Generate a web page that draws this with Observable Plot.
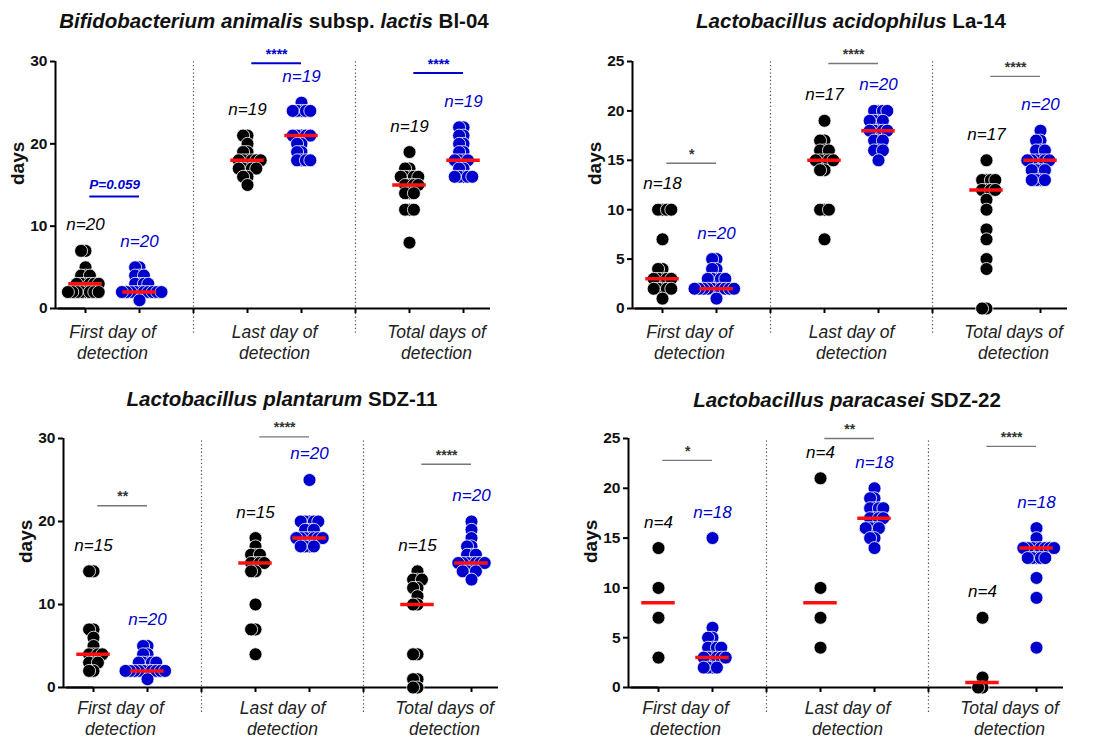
<!DOCTYPE html>
<html><head><meta charset="utf-8">
<script src="https://cdn.jsdelivr.net/npm/d3@7"></script>
<script src="https://cdn.jsdelivr.net/npm/@observablehq/plot@0.6"></script>
<style>
body{margin:0;background:#fff;font-family:"Liberation Sans",Arial,sans-serif;}
#root{position:relative;width:1094px;height:739px;overflow:hidden;background:#fff;}
.title{position:absolute;text-align:center;font-weight:bold;font-size:20.5px;line-height:24px;white-space:nowrap;color:#111;}
.panel{position:absolute;}
</style></head><body><div id="root"></div>
<script>
// ---------- shared categories ----------
const groupLabels = ["First day of\ndetection", "Last day of\ndetection", "Total days of\ndetection"];
const seriesNames = ["control", "probiotic"];
const seriesColors = ["#000000", "#0000cc"];

// ---------- Bifidobacterium animalis subsp. lactis Bl-04 ----------
const bl04_first_control = [7,7,5,4,4,4,3,3,3,3,3,3,2,2,2,2,2,2,2,2];
const bl04_first_probiotic = [5,5,4,4,4,3,3,3,3,2,2,2,2,2,2,2,2,2,2,1];
const bl04_last_control = [21,21,20,19,19,18,18,18,18,18,18,17,17,17,17,17,16,16,15];
const bl04_last_probiotic = [25,24,24,24,24,24,21,21,21,21,21,20,20,19,19,18,18,18,18];
const bl04_total_control = [19,17,17,16,16,16,16,16,15,15,15,15,14,14,14,12,12,12,8];
const bl04_total_probiotic = [22,22,21,21,20,20,19,19,18,18,18,18,17,17,16,16,16,16,16];
const bl04_sig_labels = ["P=0.059", "****", "****"];
const bl04_sig_y = [13.6, 29.8, 28.6];

// ---------- Lactobacillus acidophilus La-14 ----------
const la14_first_control = [10,10,10,10,7,4,4,3,3,3,3,3,2,2,2,2,2,1];
const la14_first_probiotic = [5,5,4,4,3,3,3,3,3,2,2,2,2,2,2,2,2,2,2,1];
const la14_last_control = [19,17,17,16,16,16,15,15,15,15,15,14,14,10,10,10,7];
const la14_last_probiotic = [20,20,20,20,19,19,19,19,18,18,18,18,18,17,17,17,16,16,16,15];
const la14_total_control = [15,13,13,13,13,12,12,12,12,11,10,8,7,5,4,0,0];
const la14_total_probiotic = [18,17,17,16,16,16,15,15,15,15,15,15,14,14,14,14,13,13,13,13];
const la14_sig_labels = ["*", "****", "****"];
const la14_sig_y = [14.7, 24.8, 23.5];

// ---------- Lactobacillus plantarum SDZ-11 ----------
const sdz11_first_control = [14,14,7,7,6,5,4,4,4,4,3,3,3,2,2];
const sdz11_first_probiotic = [5,5,4,4,3,3,3,3,3,2,2,2,2,2,2,2,2,2,2,1];
const sdz11_last_control = [18,17,16,16,16,15,15,15,15,14,14,10,7,7,4];
const sdz11_last_probiotic = [25,20,20,20,20,20,19,19,19,18,18,18,18,18,18,18,17,17,17,17];
const sdz11_total_control = [14,13,13,13,12,12,11,10,10,4,4,1,1,0,0];
const sdz11_total_probiotic = [20,19,18,17,17,16,16,16,15,15,15,15,15,15,15,14,14,14,14,13];
const sdz11_sig_labels = ["**", "****", "****"];
const sdz11_sig_y = [21.9, 30.2, 26.9];

// ---------- Lactobacillus paracasei SDZ-22 ----------
const sdz22_first_control = [14,10,7,3];
const sdz22_first_probiotic = [15,6,5,5,4,4,4,4,3,3,3,3,3,3,2,2,2,2];
const sdz22_last_control = [21,10,7,4];
const sdz22_last_probiotic = [20,19,19,18,18,18,18,17,17,17,17,16,16,16,16,15,15,14];
const sdz22_total_control = [7,1,0,0];
const sdz22_total_probiotic = [16,15,14,14,14,14,14,14,14,14,13,13,13,13,13,11,9,4];
const sdz22_sig_labels = ["*", "**", "****"];
const sdz22_sig_y = [22.8, 25.0, 24.2];

const panels = [
  {title: "<i>Bifidobacterium animalis</i> subsp. <i>lactis</i> Bl-04",
   values: [[bl04_first_control, bl04_first_probiotic],[bl04_last_control, bl04_last_probiotic],[bl04_total_control, bl04_total_probiotic]],
   sigLabels: bl04_sig_labels, sigY: bl04_sig_y, sigColor: "#0000cc", sigWidth: 2,
   ymax: 30, ticks: [0,10,20,30], left: 58, top: 61, h: 247, titleY: 21, labDy: 33},
  {title: "<i>Lactobacillus acidophilus</i> La-14",
   values: [[la14_first_control, la14_first_probiotic],[la14_last_control, la14_last_probiotic],[la14_total_control, la14_total_probiotic]],
   sigLabels: la14_sig_labels, sigY: la14_sig_y, sigColor: "#777", sigWidth: 1.3,
   ymax: 25, ticks: [0,5,10,15,20,25], left: 635, top: 61, h: 247, titleY: 21, labDy: 33},
  {title: "<i>Lactobacillus plantarum</i> SDZ-11",
   values: [[sdz11_first_control, sdz11_first_probiotic],[sdz11_last_control, sdz11_last_probiotic],[sdz11_total_control, sdz11_total_probiotic]],
   sigLabels: sdz11_sig_labels, sigY: sdz11_sig_y, sigColor: "#777", sigWidth: 1.3,
   ymax: 30, ticks: [0,10,20,30], left: 66, top: 438, h: 249, titleY: 399, labDy: 30},
  {title: "<i>Lactobacillus paracasei</i> SDZ-22",
   values: [[sdz22_first_control, sdz22_first_probiotic],[sdz22_last_control, sdz22_last_probiotic],[sdz22_total_control, sdz22_total_probiotic]],
   sigLabels: sdz22_sig_labels, sigY: sdz22_sig_y, sigColor: "#777", sigWidth: 1.3,
   ymax: 25, ticks: [0,5,10,15,20,25], left: 631, top: 438, h: 249, titleY: 400, labDy: 30}
];

const root = document.getElementById("root");
const cols = ["g0a","g0b","gap0","g1a","g1b","gap1","g2a","g2b"];
const slot = 54, frameW = slot * 8;
const mL = 56, mR = 12, mT = 30, mB = 52;

for (const p of panels) {
  const pts = [], stats = [];
  p.values.forEach((pair, g) => pair.forEach((vals, s) => {
    const col = cols[g * 3 + s];
    vals.forEach(v => pts.push({col, v, s}));
    stats.push({col, s, med: d3.median(vals), max: d3.max(vals), n: vals.length, color: seriesColors[s]});
  }));
  const groups = groupLabels.map((label, g) => ({col: cols[g * 3], label}));
  const sig = p.sigLabels.map((label, g) => ({col: cols[g * 3], label, y: p.sigY[g], color: p.sigColor}));
  const sigP = sig.filter(d => d.label.startsWith("P"));
  const sigStars = sig.filter(d => !d.label.startsWith("P"));
  // layout radius (for spacing) is smaller than the drawn radius so that dots overlap like GraphPad
  const dodge = (s) => Plot.dodgeX({anchor: "middle", padding: 0, r: 2.2},
      {r: 6.5, fx: "col", y: "v", fill: seriesColors[s], stroke: "#ffffff", strokeWidth: 0.8});

  const chart = Plot.plot({
    width: mL + frameW + mR,
    height: mT + p.h + mB,
    marginLeft: mL, marginRight: mR, marginTop: mT, marginBottom: mB,
    style: {fontFamily: "'Liberation Sans', Arial, sans-serif", fontSize: "14px", background: "transparent", overflow: "visible"},
    fx: {domain: cols, padding: 0, label: null},
    x: {domain: [0, 1], axis: null},
    y: {domain: [0, p.ymax]},
    color: {type: "identity"},
    marks: [
      Plot.ruleX(["gap0", "gap1"], {fx: d => d, x: 0.5, y1: -p.ymax * 0.1, y2: p.ymax, stroke: "#555", strokeWidth: 1.2, strokeDasharray: "1.3 2.4"}),
      Plot.ruleY(cols, {fx: d => d, y: 0, stroke: "#000", strokeWidth: 2}),
      Plot.ruleY(["g0a"], {fx: d => d, y: 0, x1: -3 / slot, x2: 0.5, stroke: "#000", strokeWidth: 2}),
      Plot.ruleX(["g0a"], {fx: d => d, x: 0, dx: -3, y1: 0, y2: p.ymax, stroke: "#000", strokeWidth: 2}),
      Plot.axisY({ticks: p.ticks, tickSize: 5, tickPadding: 3, dx: -3, strokeWidth: 2, fontWeight: "bold", fontSize: 15.5, fill: "#111", label: null}),
      Plot.axisFx({anchor: "bottom", tickSize: 5, strokeWidth: 2, tickFormat: () => "", label: null}),
      Plot.dot(pts.filter(d => d.s === 0), dodge(0)),
      Plot.dot(pts.filter(d => d.s === 1), dodge(1)),
      Plot.ruleY(stats, {fx: "col", y: "med", x1: 0.19, x2: 0.81, stroke: "#ff1010", strokeWidth: 3.5}),
      Plot.text(stats, {fx: "col", x: 0.5, y: "max", dy: -26, text: d => "n=" + d.n, fill: "color", fontStyle: "italic", fontSize: 17}),
      Plot.ruleY(sig, {fx: "col", y: "y", x1: 0.58, x2: 1.5, stroke: "color", strokeWidth: p.sigWidth}),
      Plot.text(sigStars, {fx: "col", x: 1.04, y: "y", dy: -9, text: "label", fill: d => d.color === "#777" ? "#333" : d.color, fontSize: 14, fontWeight: "bold"}),
      Plot.text(sigP, {fx: "col", x: 1.04, y: "y", dy: -12, text: "label", fill: "color", fontSize: 13.5, fontWeight: "bold", fontStyle: "italic"}),
      Plot.text(groups, {fx: "col", x: 1, y: 0, dy: p.labDy, text: "label", lineAnchor: "middle", lineHeight: 1.22, fontStyle: "italic", fontSize: 17.5, fill: "#222"}),
      Plot.text(["days"], {fx: ["g0a"], text: d => d, frameAnchor: "left", dx: -41, rotate: -90, fontWeight: "bold", fontSize: 19, fill: "#111"})
    ]
  });
  const wrap = document.createElement("div");
  wrap.className = "panel";
  wrap.style.left = (p.left - mL) + "px";
  wrap.style.top = (p.top - mT) + "px";
  wrap.appendChild(chart);
  root.appendChild(wrap);

  const t = document.createElement("div");
  t.className = "title";
  t.innerHTML = p.title;
  t.style.left = (p.left - 20) + "px";
  t.style.width = (frameW + 40) + "px";
  t.style.top = (p.titleY - 12) + "px";
  root.appendChild(t);
}
</script></body></html>
